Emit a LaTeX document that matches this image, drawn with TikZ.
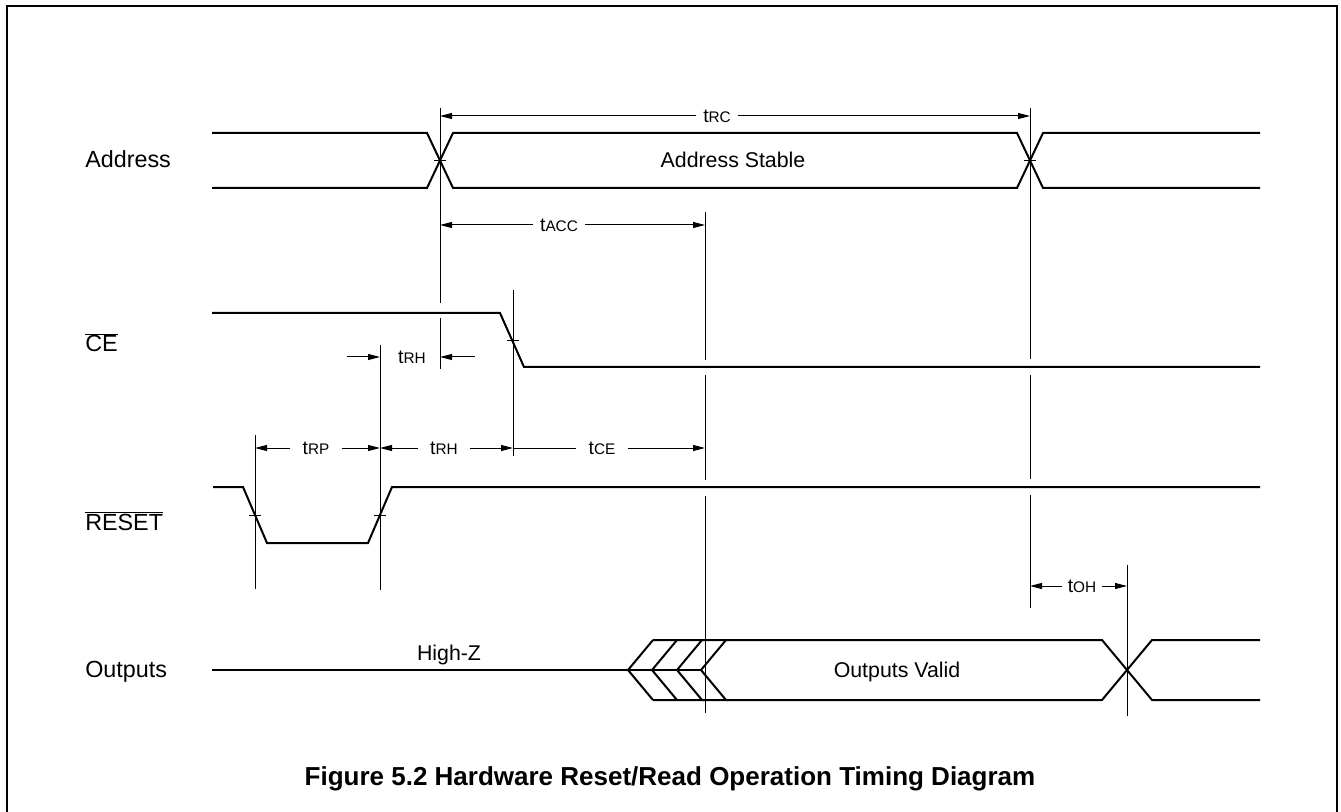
\documentclass[tikz,border=0pt]{standalone}
\usepackage{fontspec}
\setmainfont{Liberation Sans}
\usetikzlibrary{arrows.meta}
\newcommand{\tsub}[1]{t{\fontsize{11.5}{13}\selectfont #1}}

\begin{document}
\begin{tikzpicture}[x=0.75pt,y=-0.75pt,
    senal/.style={line width=1.5pt},
    guia/.style={line width=0.75pt},
    cota/.style={line width=0.75pt,-{Triangle[length=9pt,width=4.5pt]}},
    etiq/.style={anchor=base west,inner sep=0pt,font=\fontsize{17.5}{20}\selectfont},
    texto/.style={anchor=base,inner sep=0pt,font=\fontsize{16}{19}\selectfont},
    tiempo/.style={inner ysep=0pt,inner xsep=5pt,text depth=0pt,font=\fontsize{14.5}{17}\selectfont}]
    \useasboundingbox (0,0) rectangle (1341,812);

    % marco
    \draw[line width=1.5pt] (7,820) -- (7,6) -- (1337,6) -- (1337,820);

    % nombres de senales
    \node[etiq] (addr) at (85,168) {Address};
    \node[etiq] (ce) at (85,352) {$\overline{\mbox{CE}}$};
    \node[etiq] (reset) at (85,530) {$\overline{\mbox{RESET}}$};
    \node[etiq] (outs) at (85,677) {Outputs};

    % direccion
    \draw[senal] (212,133) -- (427,133) -- (453,188) -- (1017,188) -- (1043,133) -- (1260,133);
    \draw[senal] (212,188) -- (427,188) -- (453,133) -- (1017,133) -- (1043,188) -- (1260,188);
    \node[texto] (stable) at (733,168) {Address Stable};

    % CE y RESET
    \draw[senal] (212,313) -- (500,313) -- (524,367) -- (1260,367);
    \draw[senal] (213,487) -- (243,487) -- (267,543) -- (368,543) -- (392,487) -- (1260,487);

    % salidas
    \draw[senal] (212,670) -- (701,670);
    \foreach \n in {628,652,677,701}
        \draw[senal] ({\n+25},640) -- (\n,670) -- ({\n+25},700);
    \draw[senal] (653,640) -- (1102,640) -- (1152,700) -- (1260,700);
    \draw[senal] (653,700) -- (1102,700) -- (1152,640) -- (1260,640);
    \node[texto] (hiz) at (449,660) {High-Z};
    \node[texto] (valid) at (897,677) {Outputs Valid};

    % marcas de cruce
    \foreach \x/\y in {440/160.5, 1030/160.5, 513/341, 255/515, 380/515}
        \draw[guia] ({\x-6},\y) -- ({\x+6},\y);

    % lineas guia
    \draw[guia] (440,108) -- (440,303) (440,318) -- (440,369);
    \draw[guia] (1030,108) -- (1030,359) (1030,375) -- (1030,479) (1030,495) -- (1030,608);
    \draw[guia] (705,212) -- (705,360) (705,375) -- (705,480) (705,496) -- (705,713);
    \draw[guia] (513,290) -- (513,456);
    \draw[guia] (380,345) -- (380,590);
    \draw[guia] (255,435) -- (255,589);
    \draw[guia] (1127,565) -- (1127,716);

    % cotas
    \node[tiempo] (trc) at (717,116) {\tsub{RC}};
    \draw[cota] (trc) -- (trc -| 440,0);
    \draw[cota] (trc) -- (trc -| 1030,0);
    \node[tiempo] (tacc) at (559,225) {\tsub{ACC}};
    \draw[cota] (tacc) -- (tacc -| 440,0);
    \draw[cota] (tacc) -- (tacc -| 705,0);
    \node[tiempo] (trha) at (412,357) {\tsub{RH}};
    \draw[cota] (347,357) -- (trha -| 380,0);
    \draw[cota] (475,357) -- (trha -| 440,0);
    \node[tiempo,inner xsep=9pt] (trp) at (316,448) {\tsub{RP}};
    \draw[cota] (trp) -- (trp -| 255,0);
    \draw[cota] (trp) -- (trp -| 380,0);
    \node[tiempo,inner xsep=9pt] (trhb) at (444,448) {\tsub{RH}};
    \draw[cota] (trhb) -- (trhb -| 380,0);
    \draw[cota] (trhb) -- (trhb -| 513,0);
    \node[tiempo,inner xsep=9pt] (tce) at (602,448) {\tsub{CE}};
    \draw[guia] (tce) -- (tce -| 513,0);
    \draw[cota] (tce) -- (tce -| 705,0);
    \node[tiempo,inner xsep=4pt] (toh) at (1082,586) {\tsub{OH}};
    \draw[cota] (toh) -- (toh -| 1030,0);
    \draw[cota] (toh) -- (toh -| 1127,0);

    % titulo
    \node[anchor=base,inner sep=0pt,font=\bfseries\fontsize{19.5}{22}\selectfont] (titulo) at (670,785)
        {Figure 5.2 Hardware Reset/Read Operation Timing Diagram};
\end{tikzpicture}
\end{document}
